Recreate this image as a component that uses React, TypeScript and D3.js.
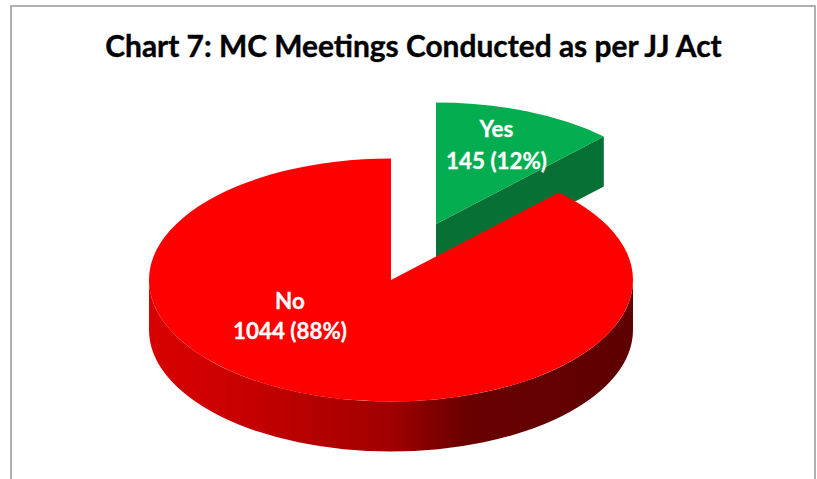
import React from "react";
import * as d3 from "d3";

const categories = ["Yes", "No"];
const values = [145, 1044];
const percents = ["12%", "88%"];
const titleText = "Chart 7: MC Meetings Conducted as per JJ Act";

const W = 817, H = 479;
const cx = 391, cy = 280, rx = 242, ry = 121.5, depth = 50;
const sy = ry / rx;
const dx = 45, dy = -56;

export default function App() {
  const pie = d3.pie<number>().sort(null).startAngle(0).endAngle(2 * Math.PI);
  const [yes, no] = pie(values);
  const arc = d3.arc<d3.PieArcDatum<number>>().innerRadius(0).outerRadius(rx);

  // red rim: lower half of the ellipse, extruded downward
  const d0 = depth / sy;
  const rim = d3.path();
  rim.moveTo(-rx, 0);
  rim.arc(0, 0, rx, Math.PI, 0, true);
  rim.lineTo(rx, d0);
  rim.arc(0, d0, rx, 0, Math.PI, false);
  rim.closePath();

  // green cut face, from apex to the rim point at the end of the slice
  const ex = rx * Math.sin(yes.endAngle);
  const ey = -rx * Math.cos(yes.endAngle);
  const cut = d3.path();
  cut.moveTo(0, 0);
  cut.lineTo(ex, ey);
  cut.lineTo(ex, ey + d0);
  cut.lineTo(0, d0);
  cut.closePath();

  return (
    <svg
      width={W}
      height={H}
      style={{ position: "absolute", left: 0, top: 0, display: "block", background: "#fff" }}
    >
      <defs>
        <linearGradient id="rimGrad" gradientUnits="userSpaceOnUse" x1={-rx} x2={rx} y1={0} y2={0}>
          <stop offset="0" stopColor="#d80000" />
          <stop offset="0.12" stopColor="#d00000" />
          <stop offset="0.5" stopColor="#a00000" />
          <stop offset="0.66" stopColor="#680000" />
          <stop offset="1" stopColor="#5e0000" />
        </linearGradient>
      </defs>
      <path d={`M11 479V6H815V479`} fill="none" stroke="#969696" strokeWidth={1.5} />
      <text
        x={413.5}
        y={56.5}
        textAnchor="middle"
        fontFamily="Lato, Carlito, sans-serif"
        fontWeight={700}
        fontSize={29.9}
        fill="#000"
        stroke="#000"
        strokeWidth={0.4}
      >
        {titleText}
      </text>
      <g transform={`translate(${cx + dx},${cy + dy}) scale(1,${sy})`}>
        <path d={cut.toString()} fill="#067035" />
        <path d={arc(yes) ?? ""} fill="#04ad4f" />
      </g>
      <g transform={`translate(${cx},${cy}) scale(1,${sy})`}>
        <path d={rim.toString()} fill="url(#rimGrad)" />
        <path d={arc(no) ?? ""} fill="#ff0000" />
      </g>
      <g
        fontFamily="Lato, Carlito, sans-serif"
        fontWeight={700}
        fontSize={22.4}
        fill="#fff"
        stroke="#fff"
        strokeWidth={0.3}
        textAnchor="middle"
      >
        <text x={496.5} y={137}>{categories[0]}</text>
        <text x={496.5} y={168.5}>{`${values[0]} (${percents[0]})`}</text>
        <text x={290} y={309}>{categories[1]}</text>
        <text x={290} y={339}>{`${values[1]} (${percents[1]})`}</text>
      </g>
    </svg>
  );
}
